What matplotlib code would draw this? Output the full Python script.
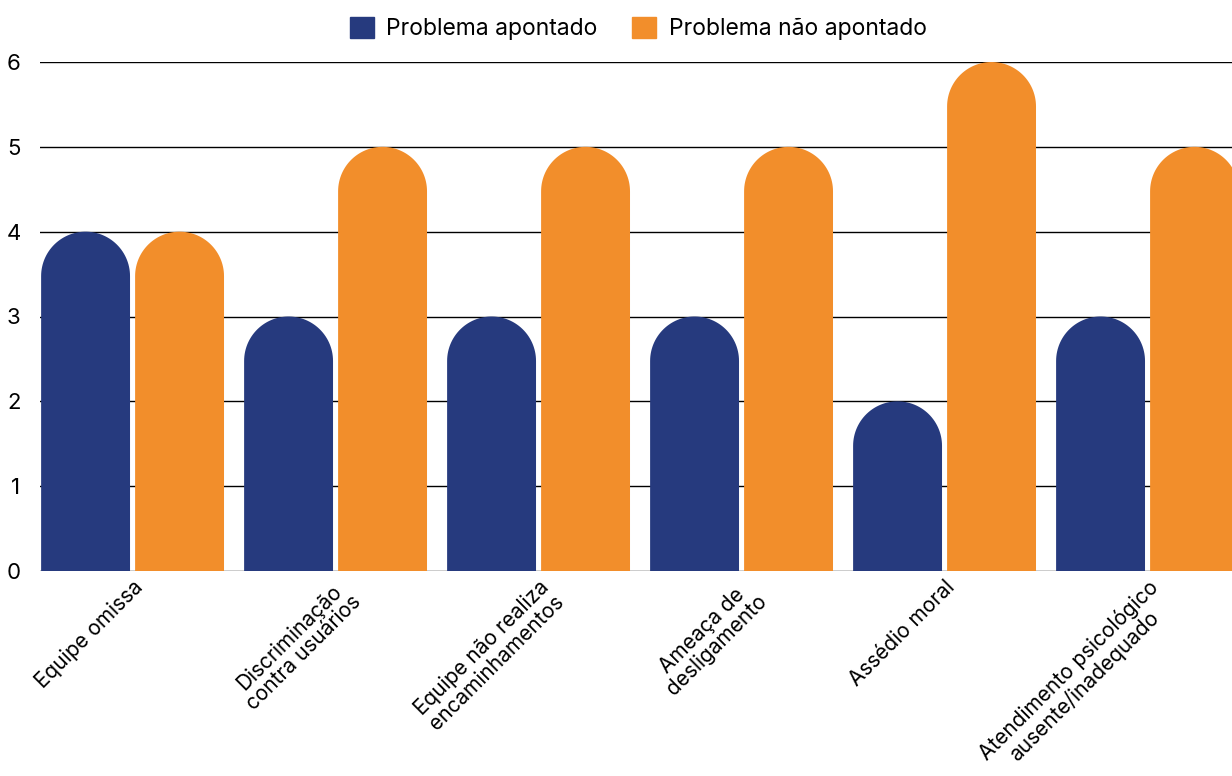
import matplotlib.pyplot as plt
import numpy as np
from matplotlib.path import Path
from matplotlib.patches import PathPatch, Patch

plt.rcParams['font.family'] = ['Inter', 'DejaVu Sans']

categorias = ["Equipe omissa",
              "Discriminação\ncontra usuários",
              "Equipe não realiza\nencaminhamentos",
              "Ameaça de\ndesligamento",
              "Assédio moral",
              "Atendimento psicológico\nausente/inadequado"]
apontado = [4, 3, 3, 3, 2, 3]
nao_apontado = [4, 5, 5, 5, 6, 5]

azul = "#263A7E"
laranja = "#F28E2B"

fig = plt.figure(figsize=(12.32, 7.76), dpi=100)
ax = fig.add_axes([40/1232, 205/776, 1 - 40/1232, (571-62)/776])
ax.set_xlim(-0.456, 5.416)
ax.set_ylim(0, 6)

larg = 0.438
desloc = 0.2315

# escala px por unidade, para o topo arredondado ficar semicircular
fig.canvas.draw()
p0 = ax.transData.transform((0, 0))
p1 = ax.transData.transform((1, 1))
razao = (p1[0] - p0[0]) / (p1[1] - p0[1])


def barra_redonda(xc, h, cor):
    rx = larg / 2
    ry = rx * razao
    t = np.linspace(0, np.pi, 60)
    topo_x = xc + rx * np.cos(t)
    topo_y = h - ry + ry * np.sin(t)
    xs = np.concatenate([[xc + rx], topo_x, [xc - rx]])
    ys = np.concatenate([[0], topo_y, [0]])
    verts = np.column_stack([xs, ys])
    path = Path(np.vstack([verts, verts[:1]]))
    ax.add_patch(PathPatch(path, facecolor=cor, edgecolor="none", zorder=3))


for i in range(len(categorias)):
    barra_redonda(i - desloc, apontado[i], azul)
    barra_redonda(i + desloc, nao_apontado[i], laranja)

ax.set_yticks(range(7))
ax.yaxis.grid(True, color="black", linewidth=1)
ax.set_axisbelow(True)
for s in ax.spines.values():
    s.set_visible(False)
ax.tick_params(axis="y", length=0, pad=14, labelsize=16)
ax.tick_params(axis="x", length=0, pad=4, labelsize=15)
ax.set_xticks(range(len(categorias)))
ax.set_xticklabels(categorias, rotation=45, ha="right", rotation_mode="anchor",
                   multialignment="center", linespacing=1.05)

handles = [Patch(color=azul, label="Problema apontado"),
           Patch(color=laranja, label="Problema não apontado")]
fig.legend(handles=handles, loc="upper center", bbox_to_anchor=(0.518, 1.005),
           ncol=2, frameon=False, fontsize=16.5, handlelength=1.05, handleheight=1.05,
           columnspacing=1.5, handletextpad=0.55)

fig.savefig("out.png", dpi=100)
